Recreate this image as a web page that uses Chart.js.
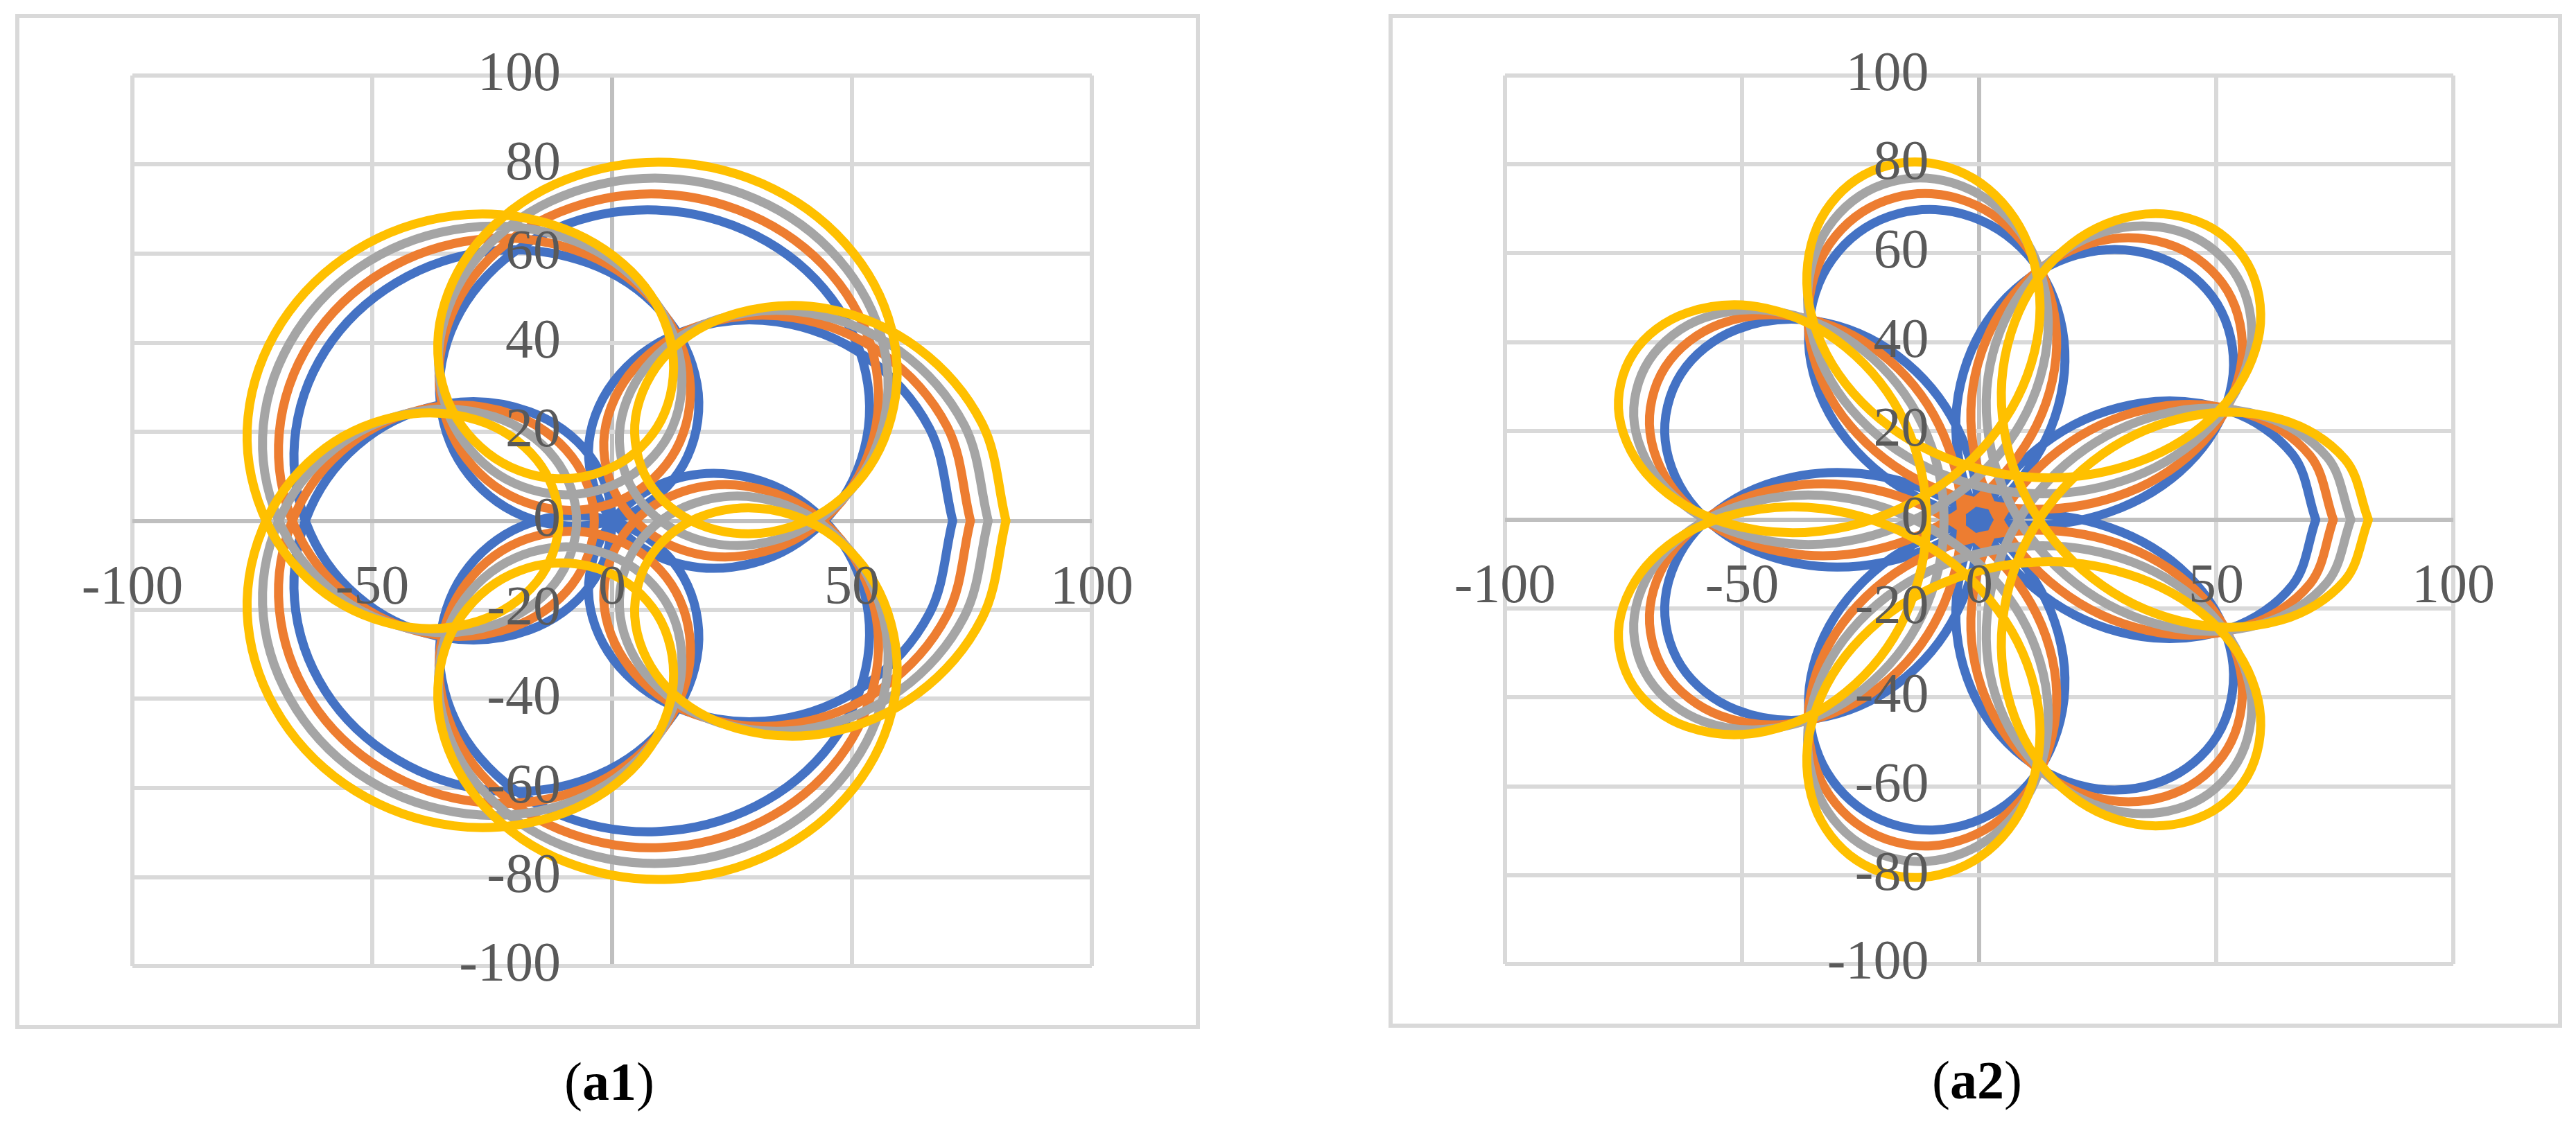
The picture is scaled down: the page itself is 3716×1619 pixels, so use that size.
<!DOCTYPE html>
<html>
<head>
<meta charset="utf-8">
<script src="https://cdn.jsdelivr.net/npm/chart.js@4.4.1/dist/chart.umd.min.js"></script>
<style>
  html, body { margin: 0; padding: 0; background: #fff; }
  body { width: 3716px; height: 1619px; position: relative; overflow: hidden; }
  .box { position: absolute; border: 6px solid #d9d9d9; box-sizing: border-box; }
  canvas { position: absolute; }
  .cap { position: absolute; font-family: 'Liberation Serif', 'Times New Roman', serif; font-size: 78px;
         color: #000; transform: translate(-50%, -50%); white-space: nowrap; line-height: 1; }
</style>
</head>
<body>
<div class="box" style="left:22px;top:20px;width:1709px;height:1465px"></div>
<canvas id="a1" width="1709" height="1465" style="left:22px;top:20px"></canvas>
<div class="cap" style="left:879px;top:1561px">(<b>a1</b>)</div>

<div class="box" style="left:2003px;top:20px;width:1693px;height:1463px"></div>
<canvas id="a2" width="1693" height="1463" style="left:2003px;top:20px"></canvas>
<div class="cap" style="left:2852px;top:1559px">(<b>a2</b>)</div>

<script>
// x values, the same for both panels
var xBlue = [71.0, 66.1, 52.8, 34.3, 15.6, 1.5, -4.8, -1.6, 9.4, 25.1, 40.6, 51.1, 53.3, 45.7, 29.9, 9.2, -11.6, -27.6, -35.5, -33.8, -24.0, -9.2, 5.7, 15.7, 17.7, 10.3, -5.0, -25.1, -45.0, -59.8, -66.2, -62.9, -51.2, -34.3, -17.2, -4.7, 0,
  -4.7, -17.2, -34.3, -51.2, -62.9, -66.2, -59.8, -45.0, -25.1, -5.0, 10.3, 17.7, 15.7, 5.7, -9.2, -24.0, -33.8, -35.5, -27.6, -11.6, 9.2, 29.9, 45.7, 53.3, 51.1, 40.6, 25.1, 9.4, -1.6, -4.8, 1.5, 15.6, 34.3, 52.8, 66.1, 71.0];
var xOrange = [74.7, 69.8, 56.4, 37.9, 19.0, 4.8, -1.6, 1.4, 12.2, 27.7, 43.0, 53.2, 55.1, 47.3, 31.2, 10.1, -11.0, -27.3, -35.5, -34.1, -24.6, -10.1, 4.4, 14.1, 15.9, 8.2, -7.4, -27.7, -47.8, -62.8, -69.4, -66.2, -54.6, -37.9, -20.8, -8.4, -3.7,
  -8.4, -20.8, -37.9, -54.6, -66.2, -69.4, -62.8, -47.8, -27.7, -7.4, 8.2, 15.9, 14.1, 4.4, -10.1, -24.6, -34.1, -35.5, -27.3, -11.0, 10.1, 31.2, 47.3, 55.1, 53.2, 43.0, 27.7, 12.2, 1.4, -1.6, 4.8, 19.0, 37.9, 56.4, 69.8, 74.7];
var xGray = [78.4, 73.4, 60.0, 41.4, 22.5, 8.2, 1.7, 4.4, 15.1, 30.3, 45.4, 55.3, 57.0, 48.8, 32.5, 11.1, -10.4, -27.0, -35.5, -34.4, -25.2, -11.1, 3.1, 12.6, 14.0, 6.1, -9.8, -30.3, -50.7, -65.8, -72.7, -69.6, -58.1, -41.4, -24.4, -12.0, -7.4,
  -12.0, -24.4, -41.4, -58.1, -69.6, -72.7, -65.8, -50.7, -30.3, -9.8, 6.1, 14.0, 12.6, 3.1, -11.1, -25.2, -34.4, -35.5, -27.0, -10.4, 11.1, 32.5, 48.8, 57.0, 55.3, 45.4, 30.3, 15.1, 4.4, 1.7, 8.2, 22.5, 41.4, 60.0, 73.4, 78.4];
var xYellow = [82.1, 77.1, 63.7, 45.0, 26.0, 11.5, 4.9, 7.5, 17.9, 33.0, 47.8, 57.4, 58.8, 50.4, 33.7, 12.1, -9.7, -26.6, -35.5, -34.8, -25.9, -12.1, 1.9, 11.0, 12.2, 4.0, -12.2, -33.0, -53.5, -68.9, -75.9, -72.9, -61.6, -45.0, -28.1, -15.7, -11.1,
  -15.7, -28.1, -45.0, -61.6, -72.9, -75.9, -68.9, -53.5, -33.0, -12.2, 4.0, 12.2, 11.0, 1.9, -12.1, -25.9, -34.8, -35.5, -26.6, -9.7, 12.1, 33.7, 50.4, 58.8, 57.4, 47.8, 33.0, 17.9, 7.5, 4.9, 11.5, 26.0, 45.0, 63.7, 77.1, 82.1];

// y values, panel a1
var yBlue1 = [0, 20.9, 36.9, 44.7, 42.8, 32.8, 17.8, 2.6, -7.9, -10.4, -3.5, 11.3, 30.7, 50.0, 64.1, 69.8, 65.7, 53.2, 35.5, 17.6, 4.3, -1.2, 2.7, 14.4, 30.7, 46.9, 57.9, 60.6, 53.5, 38.2, 17.8, -2.8, -18.6, -26.3, -24.5, -14.7, 0,
  14.7, 24.5, 26.3, 18.6, 2.8, -17.8, -38.2, -53.5, -60.6, -57.9, -46.9, -30.7, -14.4, -2.7, 1.2, -4.3, -17.6, -35.5, -53.2, -65.7, -69.8, -64.1, -50.0, -30.7, -11.3, 3.5, 10.4, 7.9, -2.6, -17.8, -32.8, -42.8, -44.7, -36.9, -20.9, 0];
var yOrange1 = [0, 21.2, 37.5, 45.6, 44.1, 34.4, 19.6, 4.7, -5.5, -7.8, -0.7, 14.3, 33.9, 53.3, 67.5, 73.4, 69.3, 56.9, 39.2, 21.3, 7.9, 2.4, 6.1, 17.7, 33.9, 49.9, 60.7, 63.2, 55.9, 40.3, 19.6, -1.2, -17.3, -25.4, -23.9, -14.4, 0,
  14.4, 23.9, 25.4, 17.3, 1.2, -19.6, -40.3, -55.9, -63.2, -60.7, -49.9, -33.9, -17.7, -6.1, -2.4, -7.9, -21.3, -39.2, -56.9, -69.3, -73.4, -67.5, -53.3, -33.9, -14.3, 0.7, 7.8, 5.5, -4.7, -19.6, -34.4, -44.1, -45.6, -37.5, -21.2, 0];
var yGray1 = [0, 21.5, 38.1, 46.6, 45.4, 35.9, 21.5, 6.8, -3.1, -5.2, 2.2, 17.3, 37.2, 56.7, 71.0, 76.9, 72.9, 60.5, 42.9, 24.9, 11.5, 5.9, 9.6, 21.1, 37.2, 52.9, 63.6, 65.8, 58.3, 42.4, 21.5, 0.3, -16.0, -24.4, -23.3, -14.1, 0,
  14.1, 23.3, 24.4, 16.0, -0.3, -21.5, -42.4, -58.3, -65.8, -63.6, -52.9, -37.2, -21.1, -9.6, -5.9, -11.5, -24.9, -42.9, -60.5, -72.9, -76.9, -71.0, -56.7, -37.2, -17.3, -2.2, 5.2, 3.1, -6.8, -21.5, -35.9, -45.4, -46.6, -38.1, -21.5, 0];
var yYellow1 = [0, 21.9, 38.8, 47.6, 46.6, 37.5, 23.3, 8.9, -0.7, -2.5, 5.0, 20.4, 40.4, 60.0, 74.5, 80.5, 76.6, 64.2, 46.6, 28.6, 15.2, 9.5, 13.1, 24.4, 40.4, 56.0, 66.4, 68.5, 60.7, 44.5, 23.3, 1.9, -14.8, -23.4, -22.6, -13.7, 0,
  13.7, 22.6, 23.4, 14.8, -1.9, -23.3, -44.5, -60.7, -68.5, -66.4, -56.0, -40.4, -24.4, -13.1, -9.5, -15.2, -28.6, -46.6, -64.2, -76.6, -80.5, -74.5, -60.0, -40.4, -20.4, -5.0, 2.5, 0.7, -8.9, -23.3, -37.5, -46.6, -47.6, -38.8, -21.9, 0];

// y values, panel a2
var yBlue2 = [0, -14.7, -24.5, -26.3, -18.6, -2.8, 17.8, 38.2, 53.5, 60.6, 57.9, 46.9, 30.7, 14.4, 2.7, -1.2, 4.3, 17.6, 35.5, 53.2, 65.7, 69.8, 64.1, 50.0, 30.7, 11.3, -3.5, -10.4, -7.9, 2.6, 17.8, 32.8, 42.8, 44.7, 36.9, 20.9, 0,
  -20.9, -36.9, -44.7, -42.8, -32.8, -17.8, -2.6, 7.9, 10.4, 3.5, -11.3, -30.7, -50.0, -64.1, -69.8, -65.7, -53.2, -35.5, -17.6, -4.3, 1.2, -2.7, -14.4, -30.7, -46.9, -57.9, -60.6, -53.5, -38.2, -17.8, 2.8, 18.6, 26.3, 24.5, 14.7, 0];
var yOrange2 = [0, -14.4, -23.9, -25.4, -17.3, -1.2, 19.6, 40.3, 55.9, 63.2, 60.7, 49.9, 33.9, 17.7, 6.1, 2.4, 7.9, 21.3, 39.2, 56.9, 69.3, 73.4, 67.5, 53.3, 33.9, 14.3, -0.7, -7.8, -5.5, 4.7, 19.6, 34.4, 44.1, 45.6, 37.5, 21.2, 0,
  -21.2, -37.5, -45.6, -44.1, -34.4, -19.6, -4.7, 5.5, 7.8, 0.7, -14.3, -33.9, -53.3, -67.5, -73.4, -69.3, -56.9, -39.2, -21.3, -7.9, -2.4, -6.1, -17.7, -33.9, -49.9, -60.7, -63.2, -55.9, -40.3, -19.6, 1.2, 17.3, 25.4, 23.9, 14.4, 0];
var yGray2 = [0, -14.1, -23.3, -24.4, -16.0, 0.3, 21.5, 42.4, 58.3, 65.8, 63.6, 52.9, 37.2, 21.1, 9.6, 5.9, 11.5, 24.9, 42.9, 60.5, 72.9, 76.9, 71.0, 56.7, 37.2, 17.3, 2.2, -5.2, -3.1, 6.8, 21.5, 35.9, 45.4, 46.6, 38.1, 21.5, 0,
  -21.5, -38.1, -46.6, -45.4, -35.9, -21.5, -6.8, 3.1, 5.2, -2.2, -17.3, -37.2, -56.7, -71.0, -76.9, -72.9, -60.5, -42.9, -24.9, -11.5, -5.9, -9.6, -21.1, -37.2, -52.9, -63.6, -65.8, -58.3, -42.4, -21.5, -0.3, 16.0, 24.4, 23.3, 14.1, 0];
var yYellow2 = [0, -13.7, -22.6, -23.4, -14.8, 1.9, 23.3, 44.5, 60.7, 68.5, 66.4, 56.0, 40.4, 24.4, 13.1, 9.5, 15.2, 28.6, 46.6, 64.2, 76.6, 80.5, 74.5, 60.0, 40.4, 20.4, 5.0, -2.5, -0.7, 8.9, 23.3, 37.5, 46.6, 47.6, 38.8, 21.9, 0,
  -21.9, -38.8, -47.6, -46.6, -37.5, -23.3, -8.9, 0.7, 2.5, -5.0, -20.4, -40.4, -60.0, -74.5, -80.5, -76.6, -64.2, -46.6, -28.6, -15.2, -9.5, -13.1, -24.4, -40.4, -56.0, -66.4, -68.5, -60.7, -44.5, -23.3, -1.9, 14.8, 23.4, 22.6, 13.7, 0];

var xTicks = [-100, -50, 0, 50, 100];
var yTicks = [-100, -80, -60, -40, -20, 0, 20, 40, 60, 80, 100];

var colors = ['#4472C4', '#ED7D31', '#A5A5A5', '#FFC000'];
var tickFont = {family: "'Liberation Serif', 'Times New Roman', serif", size: 80};

function pts(xs, ys) {
    return xs.map(function (x, i) { return {x: x, y: ys[i]}; });
}

function gridColor(c) {
    return (c.tick && c.tick.value === 0) ? '#bfbfbf' : '#d9d9d9';
}

function makeChart(id, ySets, pad, yLabelAt) {
    var xSets = [xBlue, xOrange, xGray, xYellow];
    var datasets = ySets.map(function (ys, i) {
        return {
            data: pts(xSets[i], ys),
            showLine: true,
            borderColor: colors[i],
            backgroundColor: colors[i],
            borderWidth: 13,
            pointRadius: 0,
            tension: 0.35,
            borderJoinStyle: 'round',
            borderCapStyle: 'round',
            order: 4 - i
        };
    });
    return new Chart(document.getElementById(id), {
        type: 'scatter',
        data: {datasets: datasets},
        options: {
            responsive: false,
            animation: false,
            devicePixelRatio: 1,
            layout: {padding: pad},
            plugins: {legend: {display: false}, tooltip: {enabled: false}},
            scales: {
                x: {
                    type: 'linear', min: -100, max: 100, position: {y: 0},
                    afterBuildTicks: function (s) { s.ticks = xTicks.map(function (v) { return {value: v}; }); },
                    ticks: {z: 1, autoSkip: false, maxRotation: 0, padding: 50, color: '#595959', font: tickFont},
                    grid: {color: gridColor, lineWidth: 6, drawTicks: false},
                    border: {display: false}
                },
                y: {
                    type: 'linear', min: -100, max: 100, position: {x: yLabelAt},
                    afterBuildTicks: function (s) { s.ticks = yTicks.map(function (v) { return {value: v}; }); },
                    ticks: {z: 1, autoSkip: false, padding: 0, color: '#595959', font: tickFont},
                    grid: {color: gridColor, lineWidth: 6, drawTicks: false},
                    border: {display: false}
                }
            }
        }
    });
}

makeChart('a1', [yBlue1, yOrange1, yGray1, yYellow1], {left: 169, right: 156, top: 89, bottom: 91}, -10.7);
makeChart('a2', [yBlue2, yOrange2, yGray2, yYellow2], {left: 168, right: 157, top: 89, bottom: 92}, -10.6);
</script>
</body>
</html>
